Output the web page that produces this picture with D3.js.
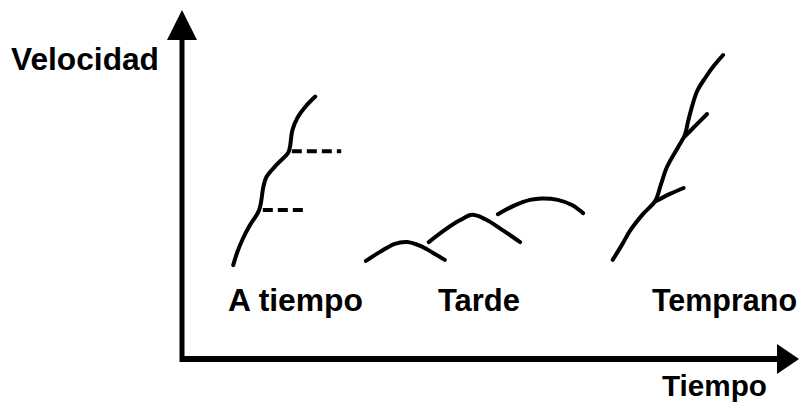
<!DOCTYPE html>
<html>
<head>
<meta charset="utf-8">
<script src="https://cdn.jsdelivr.net/npm/d3@7"></script>
<style>
  body { margin: 0; background: #fff; }
  text { font-family: "Liberation Sans", Arial, sans-serif; font-weight: bold; fill: #000; }
</style>
</head>
<body>
<div id="chart"></div>
<script>
// sketch curves, [tiempo, velocidad] on a 0-100 scale
const aTiempoCurve = [[8.3, 26.9], [9.0, 30.8], [9.9, 34.6], [11.0, 38.3], [12.5, 42.7], [13.2, 49.4],
  [13.7, 52.2], [15.3, 55.6], [17.2, 59.1], [17.5, 60.8], [17.9, 65.6], [18.8, 69.4], [20.0, 72.3], [21.6, 75.2]];
const aTiempoDashLow = [[13.1, 42.7], [20.3, 42.7]];
const aTiempoDashHigh = [[17.8, 59.5], [25.8, 59.5]];

const tardeArc1 = [[29.8, 28.1], [32.1, 30.7], [34.5, 33.0], [36.5, 33.5], [38.6, 32.4], [40.7, 30.4], [42.6, 28.4]];
const tardeArc2 = [[40.0, 33.5], [42.6, 37.0], [45.1, 39.8], [47.0, 41.3], [49.1, 40.1], [51.9, 37.0], [54.8, 33.5]];
const tardeArc3 = [[51.2, 41.5], [54.0, 44.1], [56.4, 45.6], [58.3, 46.0], [60.9, 45.6], [63.2, 44.1], [65.0, 41.8]];

const tempranoCurve = [[69.8, 28.4], [71.3, 32.7], [72.6, 36.7], [74.7, 41.5], [76.7, 45.3], [77.6, 49.9],
  [78.6, 55.0], [80.4, 60.7], [81.5, 64.2], [82.0, 67.9], [82.5, 71.3], [83.5, 76.8], [84.9, 80.8],
  [86.2, 84.0], [87.7, 87.1]];
const tempranoBranchLow = [[76.7, 45.1], [79.1, 47.3], [81.3, 49.0]];
const tempranoBranchHigh = [[81.5, 63.8], [83.3, 67.0], [85.1, 70.2]];

const groupLabels = ["A tiempo", "Tarde", "Temprano"];
const axisLabels = ["Tiempo", "Velocidad"];

const w = 799;
const h = 409;

const svg = d3.select("#chart")
  .append("svg")
  .attr("width", w)
  .attr("height", h);

const x = d3.scaleLinear().domain([0, 100]).range([182, 799]);
const y = d3.scaleLinear().domain([0, 100]).range([359, 10]);

const line = d3.line()
  .x(d => x(d[0]))
  .y(d => y(d[1]))
  .curve(d3.curveCatmullRom.alpha(0.5));

// axes with arrow heads
svg.append("line")
  .attr("x1", x(0)).attr("y1", y(0) + 3)
  .attr("x2", x(0)).attr("y2", y(100) + 28)
  .attr("stroke", "black").attr("stroke-width", 5);
svg.append("line")
  .attr("x1", x(0) - 2).attr("y1", y(0))
  .attr("x2", x(100) - 20).attr("y2", y(0))
  .attr("stroke", "black").attr("stroke-width", 6);

svg.append("path")
  .attr("d", `M${x(0)},${y(100)} L${x(0) - 15},${y(100) + 30} L${x(0) + 15},${y(100) + 30} Z`)
  .attr("fill", "black");
svg.append("path")
  .attr("d", `M${x(100)},${y(0)} L${x(100) - 22},${y(0) - 15} L${x(100) - 22},${y(0) + 15} Z`)
  .attr("fill", "black");

const solid = [aTiempoCurve, tardeArc1, tardeArc2, tardeArc3, tempranoCurve, tempranoBranchLow, tempranoBranchHigh];
svg.append("g")
  .selectAll("path")
  .data(solid)
  .join("path")
  .attr("d", line)
  .attr("fill", "none")
  .attr("stroke", "black")
  .attr("stroke-width", 4)
  .attr("stroke-linecap", "round")
  .attr("stroke-linejoin", "round");

svg.append("g")
  .selectAll("path")
  .data([aTiempoDashLow, aTiempoDashHigh])
  .join("path")
  .attr("d", d3.line().x(d => x(d[0])).y(d => y(d[1])))
  .attr("fill", "none")
  .attr("stroke", "black")
  .attr("stroke-width", 4)
  .attr("stroke-dasharray", "10,5");

// labels
const labelX = [228, 438, 652];
const labelW = [135, 82, 145];
svg.append("g")
  .selectAll("text")
  .data(groupLabels)
  .join("text")
  .attr("x", (d, i) => labelX[i])
  .attr("y", 311)
  .attr("font-size", 31)
  .attr("textLength", (d, i) => labelW[i])
  .attr("lengthAdjust", "spacingAndGlyphs")
  .text(d => d);

svg.append("text")
  .attr("x", 662).attr("y", 396)
  .attr("font-size", 29)
  .attr("textLength", 105)
  .attr("lengthAdjust", "spacingAndGlyphs")
  .text(axisLabels[0]);
svg.append("text")
  .attr("x", 11).attr("y", 70)
  .attr("font-size", 31)
  .attr("textLength", 148)
  .attr("lengthAdjust", "spacingAndGlyphs")
  .text(axisLabels[1]);
</script>
</body>
</html>
